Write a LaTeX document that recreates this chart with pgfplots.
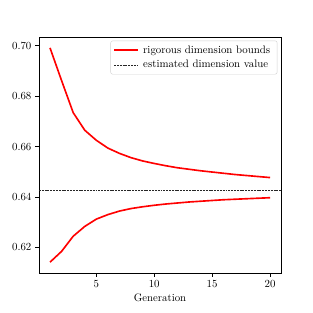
\documentclass[border=0pt]{standalone}
\usepackage{pgfplots}
\pgfplotsset{compat=1.18}
\begin{document}
\begin{tikzpicture}
\useasboundingbox (0,0) rectangle (288bp,288bp);
\begin{axis}[
  at={(35.9bp,36.8bp)}, anchor=south west,
  scale only axis, width=222.7bp, height=217.1bp,
  xmin=0.05, xmax=20.95, ymin=0.6098, ymax=0.7035,
  xtick={5,10,15,20},
  ytick={0.62,0.64,0.66,0.68,0.70},
  yticklabel style={/pgf/number format/.cd, fixed, fixed zerofill, precision=2},
  tick align=outside, tick pos=left,
  major tick length=3.5bp,
  tick style={black, line width=0.8bp},
  axis line style={line width=0.8bp},
  xlabel={Generation},
  xlabel style={yshift=1bp},
  legend style={at={(0.985,0.985)}, anchor=north east, draw=gray!35, rounded corners=2bp, fill=white, fill opacity=0.8, text opacity=1, font=\normalsize, row sep=1bp, inner sep=2.5bp, nodes={inner xsep=4bp}},
  legend cell align=left,
  legend image code/.code={\draw[#1] (0bp,0bp) -- (22bp,0bp);},
]
\addplot[red, line width=1.5bp] coordinates {
(1,0.6992) (2,0.6862) (3,0.6735) (4,0.6665) (5,0.6625) (6,0.6594) (7,0.6573) (8,0.6556) (9,0.6543) (10,0.6533)
(11,0.6524) (12,0.6516) (13,0.6510) (14,0.6504) (15,0.6499) (16,0.6494) (17,0.6489) (18,0.6485) (19,0.6481) (20,0.6477)};
\addlegendentry{rigorous dimension bounds}
\addplot[red, line width=1.5bp, forget plot] coordinates {
(1,0.6141) (2,0.6184) (3,0.6244) (4,0.6283) (5,0.6312) (6,0.6330) (7,0.6344) (8,0.6354) (9,0.6361) (10,0.6367)
(11,0.6372) (12,0.6376) (13,0.6380) (14,0.6383) (15,0.6386) (16,0.6389) (17,0.6391) (18,0.6393) (19,0.6395) (20,0.6397)};
\addplot[black!85, line width=0.5bp, dash pattern=on 1.8bp off 0.8bp] coordinates {(0.05,0.6427) (20.95,0.6427)};
\addlegendentry{estimated dimension value}
\end{axis}
\end{tikzpicture}
\end{document}
